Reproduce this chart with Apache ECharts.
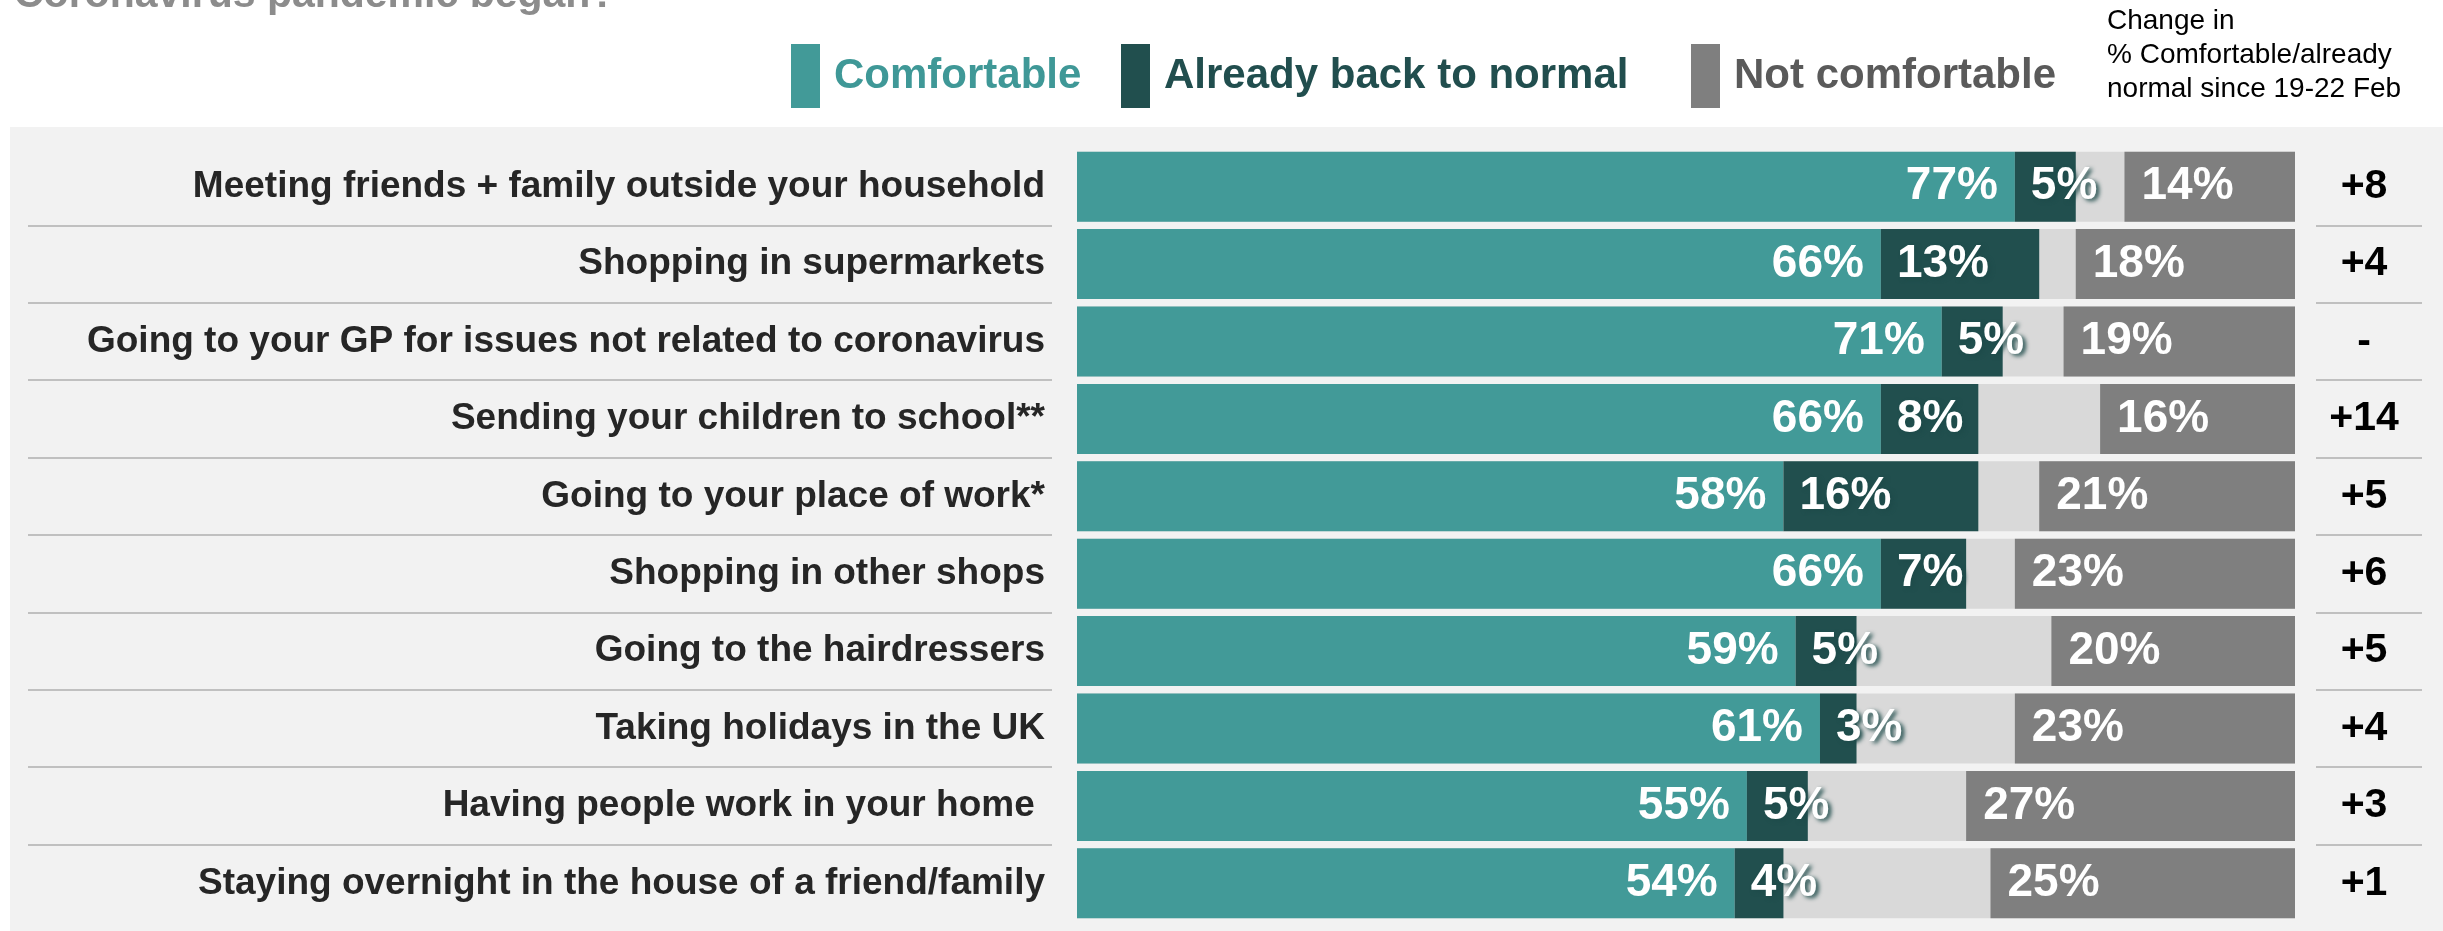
<!DOCTYPE html>
<html>
<head>
<meta charset="utf-8">
<script src="https://cdn.jsdelivr.net/npm/echarts@6/dist/echarts.min.js"></script>
<style>
html,body{margin:0;padding:0;background:#fff;}
#chart{width:2443px;height:931px;}
</style>
</head>
<body>
<div id="chart"></div>
<script>
const categories = [
  'Meeting friends + family outside your household',
  'Shopping in supermarkets',
  'Going to your GP for issues not related to coronavirus',
  'Sending your children to school**',
  'Going to your place of work*',
  'Shopping in other shops',
  'Going to the hairdressers',
  'Taking holidays in the UK',
  'Having people work in your home ',
  'Staying overnight in the house of a friend/family'
];
const comfortable = [77, 66, 71, 66, 58, 66, 59, 61, 55, 54];
const backToNormal = [5, 13, 5, 8, 16, 7, 5, 3, 5, 4];
const notComfortable = [14, 18, 19, 16, 21, 23, 20, 23, 27, 25];
const changes = ['+8', '+4', '-', '+14', '+5', '+6', '+5', '+4', '+3', '+1'];
const seriesNames = ['Comfortable', 'Already back to normal', 'Not comfortable'];

const FONT = '"Liberation Sans", Arial, Helvetica, sans-serif';
const TEAL = '#429a98', DARK = '#214f4e', GREY = '#7f7f7f', LIGHT = '#d9d9d9';

const chart = echarts.init(document.getElementById('chart'), null, {renderer: 'canvas'});

const gridTop = 148, gridHeight = 774;
const helperY = (gi) => ({
  gridIndex: gi, type: 'category', data: categories, inverse: true,
  axisLine: {show: false}, axisTick: {show: false}, axisLabel: {show: false},
  splitLine: {show: true, showMinLine: false, showMaxLine: false,
    lineStyle: {color: '#c0c0c0', width: 2}}
});

const labelBase = {show: true, formatter: '{c}%', color: '#fff', fontSize: 46,
  fontWeight: 'bold', fontFamily: FONT};

const legendBase = (name, left, color) => ({
  data: [name], left: left, top: 44, padding: 0, icon: 'rect',
  itemWidth: 29, itemHeight: 64, selectedMode: false,
  textStyle: {color: color, fontSize: 42, fontWeight: 'bold', fontFamily: FONT,
    padding: [0, 0, 0, 9]}
});

chart.setOption({
  backgroundColor: '#fff',
  animation: false,
  textStyle: {fontFamily: FONT},
  graphic: [{
    type: 'rect', z: -10, silent: true,
    shape: {x: 10, y: 127, width: 2433, height: 804},
    style: {fill: '#f2f2f2'}
  }],
  title: [
    {text: 'Coronavirus pandemic began?', left: 14, top: -25, padding: 0,
      textStyle: {fontSize: 41, fontWeight: 'bold', color: '#8c8c8c', fontFamily: FONT}},
    {text: 'Change in\n% Comfortable/already\nnormal since 19-22 Feb', left: 2107, top: 4, padding: 0,
      textStyle: {fontSize: 28, fontWeight: 'normal', color: '#000', lineHeight: 34, fontFamily: FONT}}
  ],
  legend: [
    legendBase(seriesNames[0], 791, '#3f9897'),
    legendBase(seriesNames[1], 1121, '#214e4e'),
    legendBase(seriesNames[2], 1691, '#5a5a5a')
  ],
  grid: [
    {left: 1077, width: 1218, top: gridTop, height: gridHeight},
    {left: 28, width: 1024, top: gridTop, height: gridHeight},
    {left: 2316, width: 106, top: gridTop, height: gridHeight}
  ],
  xAxis: [
    {gridIndex: 0, type: 'value', min: 0, max: 100, show: false},
    {gridIndex: 0, type: 'value', min: 0, max: 100, inverse: true, show: false},
    {gridIndex: 1, type: 'value', min: 0, max: 1, show: false},
    {gridIndex: 2, type: 'value', min: 0, max: 1, show: false}
  ],
  yAxis: [
    {gridIndex: 0, type: 'category', data: categories, inverse: true,
      axisLine: {show: false}, axisTick: {show: false}, splitLine: {show: false},
      axisLabel: {fontSize: 37, fontWeight: 'bold', color: '#262626', margin: 32, fontFamily: FONT}},
    {gridIndex: 0, type: 'category', data: categories, inverse: true, position: 'right',
      axisLine: {show: false}, axisTick: {show: false}, splitLine: {show: false},
      axisLabel: {formatter: (v, i) => changes[i], align: 'center', margin: 69,
        fontSize: 41, fontWeight: 'bold', color: '#000', fontFamily: FONT}},
    helperY(1),
    helperY(2)
  ],
  series: [
    {name: seriesNames[0], type: 'bar', xAxisIndex: 0, yAxisIndex: 0, stack: 'ok',
      data: comfortable, barCategoryGap: '9.6%',
      itemStyle: {color: TEAL},
      showBackground: true, backgroundStyle: {color: LIGHT},
      label: Object.assign({}, labelBase, {position: 'insideRight', distance: 17})},
    {name: seriesNames[1], type: 'bar', xAxisIndex: 0, yAxisIndex: 0, stack: 'ok',
      data: backToNormal,
      itemStyle: {color: DARK},
      label: Object.assign({}, labelBase, {position: 'insideLeft', distance: 16,
        textShadowColor: '#1e4b4a', textShadowBlur: 4, textShadowOffsetX: 3, textShadowOffsetY: 2})},
    {name: seriesNames[2], type: 'bar', xAxisIndex: 1, yAxisIndex: 0,
      data: notComfortable, barGap: '-100%', barCategoryGap: '9.6%',
      itemStyle: {color: GREY},
      label: Object.assign({}, labelBase, {position: 'insideLeft', distance: 17})}
  ]
});
</script>
</body>
</html>
